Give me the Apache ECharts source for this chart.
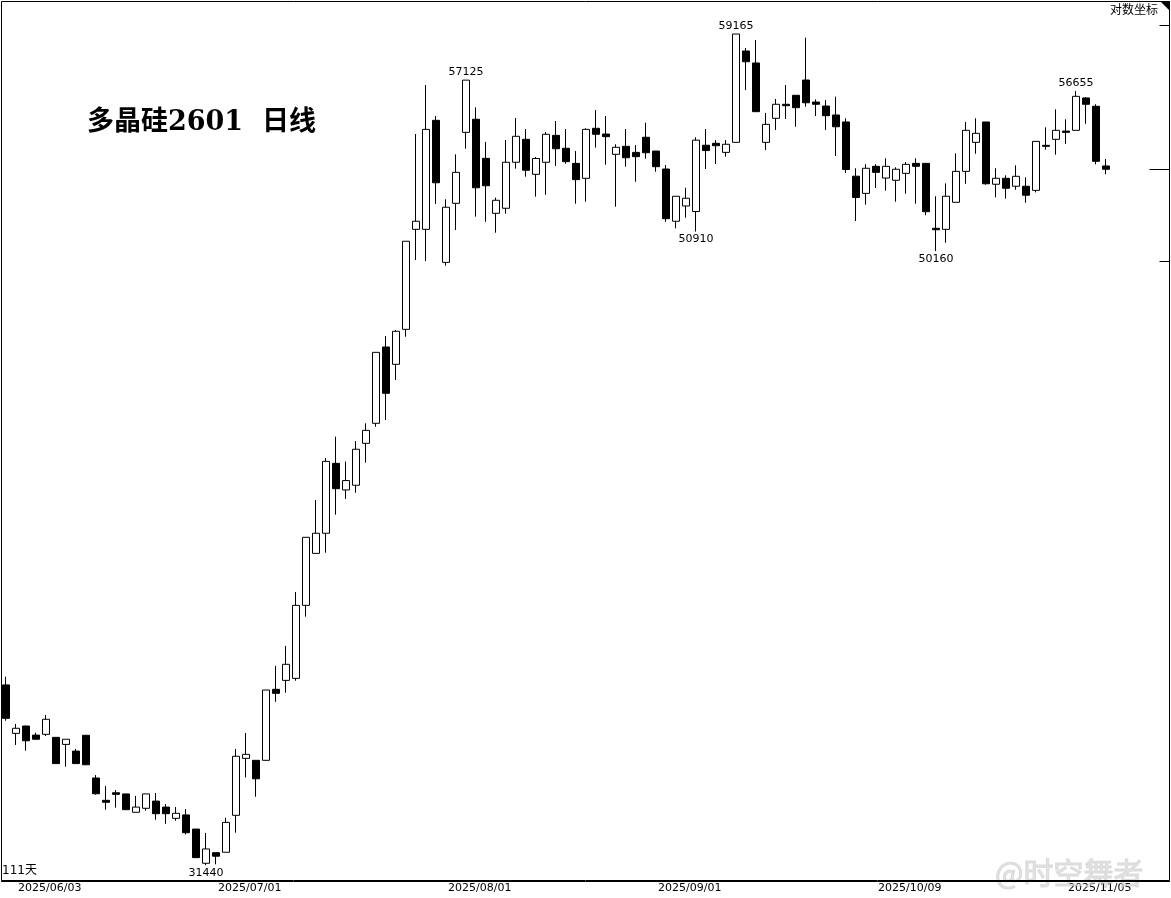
<!DOCTYPE html>
<html><head><meta charset="utf-8">
<script src="https://cdn.jsdelivr.net/npm/echarts@6/dist/echarts.min.js"></script>
<style>html,body{margin:0;padding:0;background:#fff}#c{width:1171px;height:898px}</style>
</head><body><div id="c"></div>
<script>
// ---- DATA ----
const dates = [
 '2025/06/03','2025/06/04','2025/06/05','2025/06/06','2025/06/09','2025/06/10','2025/06/11','2025/06/12','2025/06/13',
 '2025/06/16','2025/06/17','2025/06/18','2025/06/19','2025/06/20','2025/06/23','2025/06/24','2025/06/25','2025/06/26','2025/06/27','2025/06/30',
 '2025/07/01','2025/07/02','2025/07/03','2025/07/04','2025/07/07','2025/07/08','2025/07/09','2025/07/10','2025/07/11',
 '2025/07/14','2025/07/15','2025/07/16','2025/07/17','2025/07/18','2025/07/21','2025/07/22','2025/07/23','2025/07/24','2025/07/25',
 '2025/07/28','2025/07/29','2025/07/30','2025/07/31',
 '2025/08/01','2025/08/04','2025/08/05','2025/08/06','2025/08/07','2025/08/08','2025/08/11','2025/08/12','2025/08/13','2025/08/14','2025/08/15',
 '2025/08/18','2025/08/19','2025/08/20','2025/08/21','2025/08/22','2025/08/25','2025/08/26','2025/08/27','2025/08/28','2025/08/29',
 '2025/09/01','2025/09/02','2025/09/03','2025/09/04','2025/09/05','2025/09/08','2025/09/09','2025/09/10','2025/09/11','2025/09/12',
 '2025/09/15','2025/09/16','2025/09/17','2025/09/18','2025/09/19','2025/09/22','2025/09/23','2025/09/24','2025/09/25','2025/09/26',
 '2025/09/29','2025/09/30',
 '2025/10/09','2025/10/10','2025/10/13','2025/10/14','2025/10/15','2025/10/16','2025/10/17','2025/10/20','2025/10/21','2025/10/22',
 '2025/10/23','2025/10/24','2025/10/27','2025/10/28','2025/10/29','2025/10/30','2025/10/31',
 '2025/11/03','2025/11/04','2025/11/05','2025/11/06','2025/11/07','2025/11/10','2025/11/11','2025/11/12'
];
const shownDates = ['2025/06/03','2025/07/01','2025/08/01','2025/09/01','2025/10/09','2025/11/05'];

const opens = [36060,34755,34950,34710,34730,34650,34465,34290,34705,33595,33030,33220,33190,32730,32830,33010,32860,32580,32665,32315,
 31485,31740,31750,32655,34100,34050,34050,35940,36185,36240,38310,39855,40470,42680,41825,41975,43335,44000,46630,46020,
 47260,50995,50995,55405,49730,52015,54900,55450,53825,51620,51820,53665,54610,53175,53665,54775,54240,53620,53015,55070,
 54830,53990,54320,54070,54695,54125,53390,51310,51910,51690,54365,54445,54070,54485,58405,57875,54485,55490,56085,56470,
 57130,56180,56010,55630,55335,53100,52410,53500,53025,52935,53215,53620,53620,51035,50995,52055,53295,54485,55335,52775,
 53015,52695,52695,52530,54360,54610,54955,54985,56355,56000,53515];
const closes = [35155,34890,34560,34600,35130,33965,34600,33965,33935,33195,32980,33180,32795,32860,33190,32695,32695,32705,32225,31620,
 31830,31655,32480,34155,34205,33575,35920,35830,36630,38310,40345,40470,42745,41865,42125,43140,43765,46440,45015,47190,
 50535,51310,55025,52835,51860,53255,57125,52635,52715,52135,53665,54735,53340,53820,54820,54220,53690,52960,55025,54820,
 54720,54280,53850,53895,54055,53485,51410,52295,52215,54575,54145,54345,54405,59165,57930,55770,55235,56085,56025,55940,
 56150,56085,55600,55135,53370,52245,53420,53255,53500,53380,53580,53500,51685,50980,52295,53295,54985,54860,52795,53015,
 52615,53095,52335,54525,54320,54985,54900,56425,56085,53705,53380];
const lows = [35090,34450,34300,34600,34685,33965,33885,33965,33935,33170,32795,32845,32795,32730,32770,32545,32445,32520,32185,31620,
 31440,31460,31750,32225,33610,33120,34050,35600,35845,36175,37980,39855,39875,41045,41540,41735,42700,43885,44110,45475,
 46995,49820,49780,51990,49605,50970,54220,51490,51290,50865,51605,53405,53080,52280,52355,53515,53605,52000,52080,54265,
 53565,51880,53485,52875,53810,53280,51290,51035,51450,50910,53390,53595,53895,54485,56695,55770,54165,55000,55460,55135,
 55980,55585,55000,53920,53230,51320,51960,52625,52515,52080,52395,52000,51545,50160,50480,52055,52795,54015,52755,52255,
 52200,52555,52040,52450,54180,53975,54425,54985,55260,53580,53175];
const highs = [36285,35005,34960,34775,35245,34650,34600,34345,34705,33670,33390,33290,33190,33140,33190,33215,32935,32860,32810,32315,
 32220,31740,32595,34345,34765,34050,35920,36585,37145,38700,40345,41505,42855,43555,42740,43410,44000,46440,47020,47235,
 50535,54830,56915,55585,52175,53990,57125,55955,54500,52240,54580,55505,55040,53880,54915,55375,55040,54125,55070,55840,
 55585,54405,55040,54375,55305,54125,53555,52295,52635,54695,55040,54580,54580,59165,58540,58895,55715,56310,56915,56470,
 59000,56295,56265,56410,55490,53420,53585,53585,53825,53460,53675,53825,53620,52295,52810,54030,55335,55490,55335,53420,
 53135,53540,53055,54525,55110,55870,55450,56655,56395,56085,53800];

// indices of labelled extremes
const peakIdx = [46, 73, 107];
const troughIdx = [20, 69, 93];
// right-edge reference marks
const rightMarks = [59570, 49780];

const titleText = '多晶硅2601  日线';
const countText = '111天';
const scaleText = '对数坐标';
const watermarkText = '@时空舞者';

// ---- CHART ----
const PAD = 6;
const cats = dates.concat(Array.from({length: PAD}, (_, k) => 'pad' + k));
const kData = opens.map((o, i) => [o, closes[i], lows[i], highs[i]]);
const lastIdx = closes.length - 1;

const markData = peakIdx.map(i => ({coord: [i, highs[i]], value: highs[i], label: {position: 'top', distance: 2}}))
  .concat(troughIdx.map(i => ({coord: [i, lows[i]], value: lows[i], label: {position: 'bottom', distance: 2}})));

const chart = echarts.init(document.getElementById('c'), null, {renderer: 'canvas'});
chart.setOption({
  animation: false,
  backgroundColor: '#fff',
  title: {
    text: titleText, left: 82, top: 104,
    textStyle: {fontSize: 27, fontWeight: 'bold', color: '#000', fontFamily: "'DejaVu Serif','Noto Sans CJK SC'"}
  },
  grid: {left: 1, right: 0, top: 1, bottom: 18, show: false},
  xAxis: {
    type: 'category', data: cats, boundaryGap: true,
    axisLine: {show: false}, axisTick: {show: false}, splitLine: {show: false},
    axisLabel: {
      interval: (idx, val) => shownDates.indexOf(val) >= 0,
      align: 'left', padding: [0, 0, 0, 12], margin: 3,
      fontSize: 11, fontFamily: "'DejaVu Sans'", color: '#000'
    }
  },
  yAxis: {
    type: 'log', logBase: 10, min: 31087, max: 60669, scale: true,
    axisLine: {show: false}, axisTick: {show: false}, axisLabel: {show: false}, splitLine: {show: false}
  },
  series: [
    {
      type: 'candlestick', data: kData, barWidth: 7,
      itemStyle: {color: '#fff', color0: '#000', borderColor: '#000', borderColor0: '#000', borderWidth: 1},
      emphasis: {disabled: true},
      markPoint: {
        symbol: 'circle', symbolSize: 1, itemStyle: {color: 'rgba(0,0,0,0)'},
        label: {show: true, color: '#000', fontSize: 11, fontFamily: "'DejaVu Sans'", formatter: p => String(p.value)},
        data: markData, silent: true, animation: false
      }
    },
    {
      type: 'custom', silent: true, z: 5,
      data: rightMarks.map(v => [0, v, 0]).concat([[0, closes[lastIdx], 1]]),
      encode: {x: 0, y: 1},
      renderItem: (params, api) => {
        const y = Math.round(api.coord([0, api.value(1)])[1]) + 0.5;
        const cs = params.coordSys;
        const xr = cs.x + cs.width - 1.5;
        const len = api.value(2) ? 20 : 10;
        return {type: 'line', shape: {x1: xr - len, y1: y, x2: xr, y2: y}, style: {stroke: '#000', lineWidth: 1}};
      }
    }
  ],
  graphic: [
    {type: 'rect', silent: true, z: 10, shape: {x: 1.5, y: 1.5, width: 1168, height: 879}, style: {fill: null, stroke: '#000', lineWidth: 1}},
    {type: 'line', silent: true, z: 10, shape: {x1: 1, y1: 881.5, x2: 1170, y2: 881.5}, style: {stroke: '#000', lineWidth: 1}},
    {type: 'polygon', silent: true, z: 10, shape: {points: [[1160, 1], [1170, 1], [1170, 11]]}, style: {fill: '#000'}},
    {type: 'text', silent: true, z: 10, x: 1110, y: 3, style: {text: scaleText, font: "12px 'Noto Sans CJK SC'", fill: '#000'}},
    {type: 'text', silent: true, z: 10, x: 2, y: 865, style: {text: countText, font: "12px 'DejaVu Sans','Noto Sans CJK SC'", fill: '#000'}},
    {type: 'text', silent: true, z: 1, x: 995, y: 858, style: {text: watermarkText, font: "30px 'Noto Sans CJK SC'", fill: 'rgba(215,215,215,0.7)', stroke: 'rgba(150,150,150,0.35)', lineWidth: 1}}
  ]
});
</script>
</body></html>
